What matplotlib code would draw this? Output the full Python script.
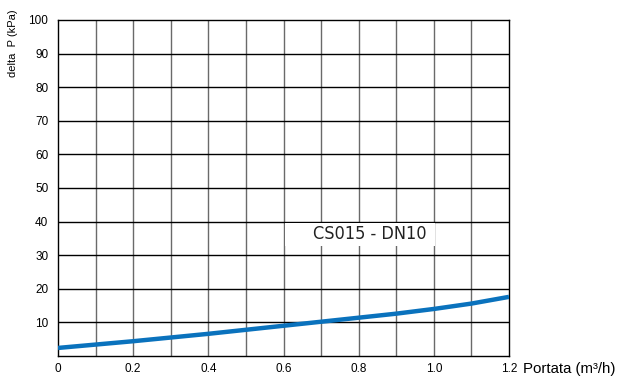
import numpy as np
import matplotlib.pyplot as plt
from matplotlib.patches import Rectangle

# curve
portata = [0.0, 0.1, 0.2, 0.3, 0.4, 0.5, 0.6, 0.7, 0.8, 0.9, 1.0, 1.1, 1.2]
delta_p = [2.4, 3.4, 4.4, 5.5, 6.6, 7.8, 9.0, 10.2, 11.4, 12.6, 14.0, 15.6, 17.6]

x_ticks = [0, 0.2, 0.4, 0.6, 0.8, 1.0, 1.2]
x_labels = ['0', '0.2', '0.4', '0.6', '0.8', '1.0', '1.2']
y_ticks = [10, 20, 30, 40, 50, 60, 70, 80, 90, 100]
series_label = 'CS015 - DN10'

plt.rcParams['font.family'] = ['Liberation Sans', 'DejaVu Sans']

fig = plt.figure(figsize=(6.2, 3.76), dpi=100)
ax = fig.add_axes([58 / 620, 20 / 376, 451 / 620, 336 / 376])

ax.set_xlim(0, 1.2)
ax.set_ylim(0, 100)

# grid
for gx in np.arange(0.1, 1.2, 0.1):
    ax.axvline(gx, color='#6a6a6a', lw=1.0, zorder=1)
for gy in y_ticks[:-1]:
    ax.axhline(gy, color='black', lw=1.0, zorder=1)

ax.plot(portata, delta_p, color='#0a72bd', lw=3.2, solid_capstyle='butt', zorder=3)

# white label box over the grid
ax.add_patch(Rectangle((0.604, 32.7), 0.399, 7.0, facecolor='white',
                       edgecolor='none', zorder=2))
ax.text(0.83, 36.2, series_label, ha='center', va='center', fontsize=13,
        family='DejaVu Sans', stretch='condensed', color='#222222', zorder=4)

for s in ax.spines.values():
    s.set_color('black')
    s.set_linewidth(1.0)

ax.set_xticks(x_ticks)
ax.set_xticklabels(x_labels)
ax.set_yticks(y_ticks)
ax.tick_params(length=0, labelsize=8.5)
ax.tick_params(axis='x', pad=5)
ax.tick_params(axis='y', pad=7)

ax.text(1.0 + 14 / 451, -13 / 336, 'Portata (m³/h)', transform=ax.transAxes,
        ha='left', va='center', fontsize=10.8, clip_on=False)
fig.text(13 / 620, 1 - 43 / 376, 'delta  P (kPa)', rotation=90,
         ha='center', va='center', fontsize=8)

fig.savefig('out.png', dpi=100)
